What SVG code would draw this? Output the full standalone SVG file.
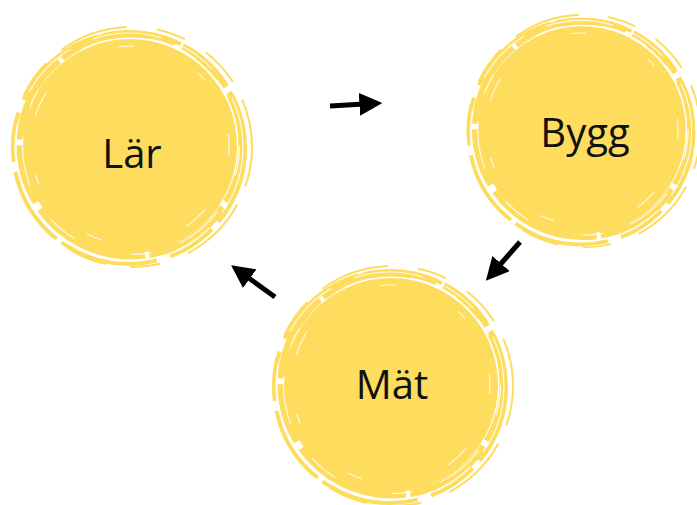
<svg xmlns="http://www.w3.org/2000/svg" width="697" height="505" viewBox="0 0 697 505">
<style>
.core{fill:#FEDC5D}
.ring{fill:none;stroke:#FEDC5D}
.wh{fill:none;stroke:#ffffff;stroke-width:1.2;opacity:0.85}
.lbl{font-family:"Open Sans","Liberation Sans",sans-serif;font-size:40px;fill:#111;text-anchor:middle}
.arr{stroke:#000;stroke-width:5;fill:none;marker-end:url(#ah)}
</style>
<defs>
<marker id="ah" viewBox="0 0 10 10" refX="2" refY="5" markerWidth="4.6" markerHeight="4.6" orient="auto" markerUnits="strokeWidth">
<path d="M0,0 L10,5 L0,10 Z" fill="#000"/>
</marker>
<g id="blob">
<circle class="core" cx="0" cy="0" r="107"/>
<circle class="ring" cx="1" cy="-1" r="111" stroke-width="7" stroke-dasharray="60 6 90 4 120 8"/>
<circle class="ring" cx="-1" cy="2" r="116" stroke-width="4" stroke-dasharray="80 10 50 14 100 6"/>
<circle class="ring" cx="2" cy="1" r="120" stroke-width="2" stroke-dasharray="40 20 70 30 30 25"/>
<circle class="wh" cx="1" cy="0" r="108.5" stroke-dasharray="30 40 50 30 20 60"/>
<circle class="wh" cx="-1" cy="1" r="114" stroke-dasharray="70 20 40 35 60 25"/>
<circle class="wh" cx="0" cy="-1" r="99" stroke-dasharray="10 60 25 90 15 70" opacity="0.5"/>
</g>
</defs>
<g id="node-lar">
<use href="#blob" transform="translate(130,146)"/>
<text class="lbl" x="132" y="168">Lär</text>
</g>
<g id="node-bygg">
<use href="#blob" transform="translate(582,130) scale(0.97)"/>
<text class="lbl" x="585" y="147">Bygg</text>
</g>
<g id="node-mat">
<use href="#blob" transform="translate(391,385)"/>
<text class="lbl" x="392" y="399">Mät</text>
</g>
<g id="connectors">
<line class="arr" x1="330" y1="106" x2="364" y2="104"/>
<line class="arr" x1="520" y1="242" x2="498" y2="267"/>
<line class="arr" x1="275" y1="297" x2="246" y2="276"/>
</g>
</svg>
